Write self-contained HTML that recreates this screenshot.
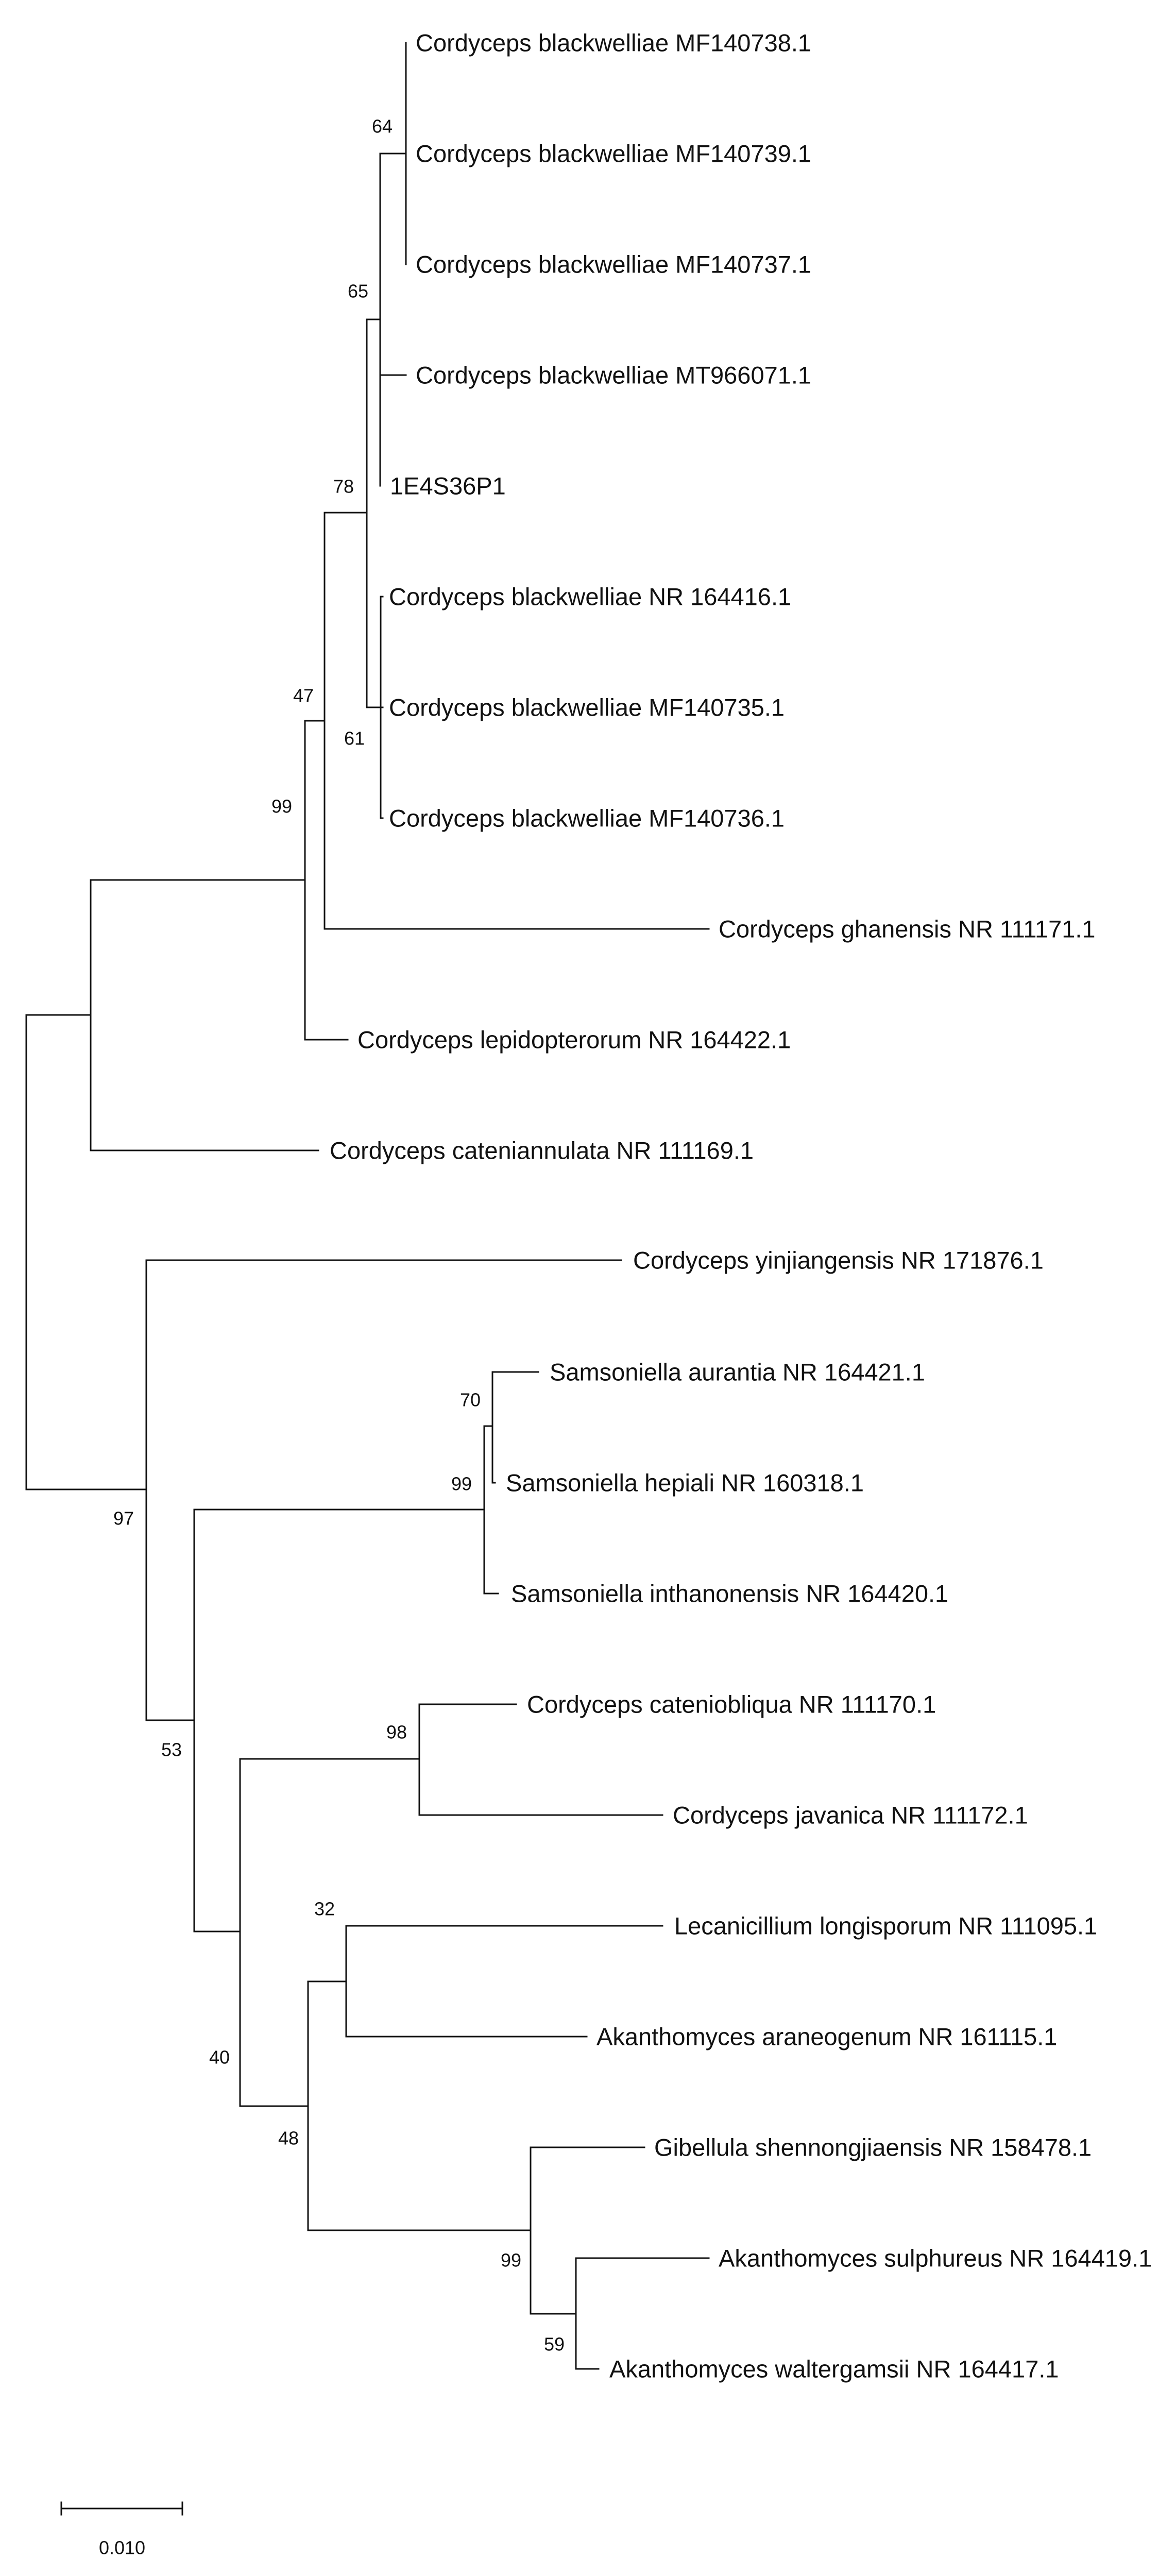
<!DOCTYPE html>
<html><head><meta charset="utf-8"><style>
html,body{margin:0;padding:0;background:#fff;width:2283px;height:5019px;overflow:hidden;}
svg{display:block;}
text{font-family:"Liberation Sans",Arial,sans-serif;fill:#111;}
.l{font-size:47px;dominant-baseline:central;}
.b{font-size:36px;text-anchor:middle;dominant-baseline:central;}
</style></head><body>
<svg width="2283" height="5019" viewBox="0 0 2283 5019" xmlns="http://www.w3.org/2000/svg">
<g stroke="#111" stroke-width="3" fill="none" stroke-linecap="square">
<path d="M788 83 V513 M738 298 H788"/>
<path d="M738 298 V943 M738 728 H788 M712 620 H738"/>
<path d="M739 1158 V1588 M739 1158 H743 M739 1588 H743 M712 1373 H743"/>
<path d="M712 620 V1373 M630 995 H712"/>
<path d="M630 995 V1803 M630 1803 H1376 M592 1399 H630"/>
<path d="M592 1399 V2018 M592 2018 H675 M176 1708 H592"/>
<path d="M176 1708 V2233 M176 2233 H618 M51 1970 H176"/>
<path d="M51 1970 V2891 M51 2891 H284"/>
<path d="M284 2446 V3339 M284 2446 H1206 M284 3339 H377"/>
<path d="M956 2663 V2878 M956 2663 H1045 M956 2878 H961 M940 2768 H956"/>
<path d="M940 2768 V3093 M940 3093 H967 M377 2930 H940"/>
<path d="M377 2930 V3749 M377 3749 H466"/>
<path d="M814 3308 V3523 M814 3308 H1002 M814 3523 H1286 M466 3414 H814"/>
<path d="M466 3414 V4088 M466 4088 H598"/>
<path d="M672 3738 V3953 M672 3738 H1286 M672 3953 H1139 M598 3846 H672"/>
<path d="M598 3846 V4329 M598 4329 H1030"/>
<path d="M1030 4168 V4491 M1030 4168 H1251 M1030 4491 H1118"/>
<path d="M1118 4383 V4598 M1118 4383 H1376 M1118 4598 H1162"/>
<path d="M119 4869 H354 M119 4857 V4881 M354 4857 V4881"/>
</g>
<g>
<text class="l" x="807" y="83">Cordyceps blackwelliae MF140738.1</text>
<text class="l" x="807" y="298">Cordyceps blackwelliae MF140739.1</text>
<text class="l" x="807" y="513">Cordyceps blackwelliae MF140737.1</text>
<text class="l" x="807" y="728">Cordyceps blackwelliae MT966071.1</text>
<text class="l" x="757" y="943">1E4S36P1</text>
<text class="l" x="755" y="1158">Cordyceps blackwelliae NR 164416.1</text>
<text class="l" x="755" y="1373">Cordyceps blackwelliae MF140735.1</text>
<text class="l" x="755" y="1588">Cordyceps blackwelliae MF140736.1</text>
<text class="l" x="1395" y="1803">Cordyceps ghanensis NR 111171.1</text>
<text class="l" x="694" y="2018">Cordyceps lepidopterorum NR 164422.1</text>
<text class="l" x="640" y="2233">Cordyceps cateniannulata NR 111169.1</text>
<text class="l" x="1229" y="2446">Cordyceps yinjiangensis NR 171876.1</text>
<text class="l" x="1067" y="2663">Samsoniella aurantia NR 164421.1</text>
<text class="l" x="982" y="2878">Samsoniella hepiali NR 160318.1</text>
<text class="l" x="992" y="3093">Samsoniella inthanonensis NR 164420.1</text>
<text class="l" x="1023" y="3308">Cordyceps cateniobliqua NR 111170.1</text>
<text class="l" x="1306" y="3523">Cordyceps javanica NR 111172.1</text>
<text class="l" x="1309" y="3738">Lecanicillium longisporum NR 111095.1</text>
<text class="l" x="1158" y="3953">Akanthomyces araneogenum NR 161115.1</text>
<text class="l" x="1270" y="4168">Gibellula shennongjiaensis NR 158478.1</text>
<text class="l" x="1395" y="4383">Akanthomyces sulphureus NR 164419.1</text>
<text class="l" x="1183" y="4598">Akanthomyces waltergamsii NR 164417.1</text>

<text class="b" x="742" y="245">64</text>
<text class="b" x="695" y="565">65</text>
<text class="b" x="667" y="944">78</text>
<text class="b" x="589" y="1350">47</text>
<text class="b" x="688" y="1433">61</text>
<text class="b" x="547" y="1565">99</text>
<text class="b" x="240" y="2947">97</text>
<text class="b" x="913" y="2717">70</text>
<text class="b" x="896" y="2880">99</text>
<text class="b" x="333" y="3396">53</text>
<text class="b" x="770" y="3362">98</text>
<text class="b" x="630" y="3705">32</text>
<text class="b" x="426" y="3993">40</text>
<text class="b" x="560" y="4150">48</text>
<text class="b" x="992" y="4387">99</text>
<text class="b" x="1076" y="4550">59</text>
<text class="b" x="237" y="4945">0.010</text>
</g>
</svg>
</body></html>
